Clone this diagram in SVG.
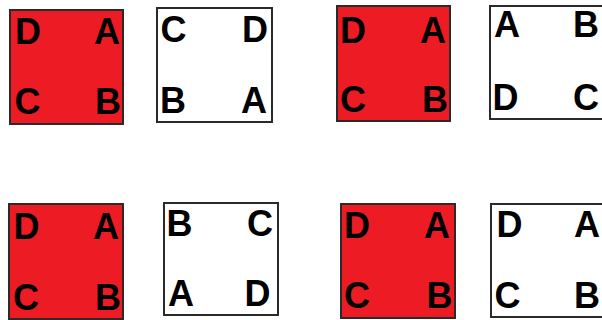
<svg xmlns="http://www.w3.org/2000/svg" width="602" height="320" viewBox="0 0 602 320">
<style>
.red{fill:#ED1C24;stroke:#2a2a2a;stroke-width:2}
.white{fill:#fff;stroke:#2a2a2a;stroke-width:2}
text{font-family:"Liberation Sans",Arial,sans-serif;font-weight:bold;font-size:36px;fill:#000}
.e{text-anchor:end}
</style>
<rect width="602" height="320" fill="#fff"/>
<g id="sq1">
<rect class="red" x="10" y="10" width="113" height="114"/>
<text x="15" y="44">D</text><text class="e" x="120" y="44">A</text>
<text x="14.5" y="114">C</text><text class="e" x="121" y="114">B</text>
</g>
<g id="sq2">
<rect class="white" x="157" y="8" width="115" height="114"/>
<text x="160.5" y="41.5">C</text><text class="e" x="268" y="41.5">D</text>
<text x="160" y="113">B</text><text class="e" x="267" y="113">A</text>
</g>
<g id="sq3">
<rect class="red" x="337" y="6" width="113" height="115"/>
<text x="340" y="43">D</text><text class="e" x="446" y="43">A</text>
<text x="340" y="112">C</text><text class="e" x="448" y="112">B</text>
</g>
<g id="sq4">
<rect class="white" x="490" y="6" width="115" height="113"/>
<text x="494" y="37">A</text><text class="e" x="599" y="37">B</text>
<text x="492.5" y="110">D</text><text class="e" x="599" y="110">C</text>
</g>
<g id="sq5">
<rect class="red" x="9" y="204" width="114" height="115"/>
<text x="13.5" y="239">D</text><text class="e" x="119" y="239">A</text>
<text x="13" y="310">C</text><text class="e" x="121" y="310">B</text>
</g>
<g id="sq6">
<rect class="white" x="164" y="203" width="114" height="112"/>
<text x="166.5" y="235.7">B</text><text class="e" x="273" y="235.7">C</text>
<text x="168" y="306">A</text><text class="e" x="270.5" y="306">D</text>
</g>
<g id="sq7">
<rect class="red" x="341" y="204" width="114" height="114"/>
<text x="344" y="238">D</text><text class="e" x="450" y="238">A</text>
<text x="344" y="308">C</text><text class="e" x="452.5" y="308">B</text>
</g>
<g id="sq8">
<rect class="white" x="491" y="204" width="116" height="113"/>
<text x="496.5" y="237">D</text><text class="e" x="600" y="237">A</text>
<text x="494.5" y="308">C</text><text class="e" x="600" y="308">B</text>
</g>
</svg>
